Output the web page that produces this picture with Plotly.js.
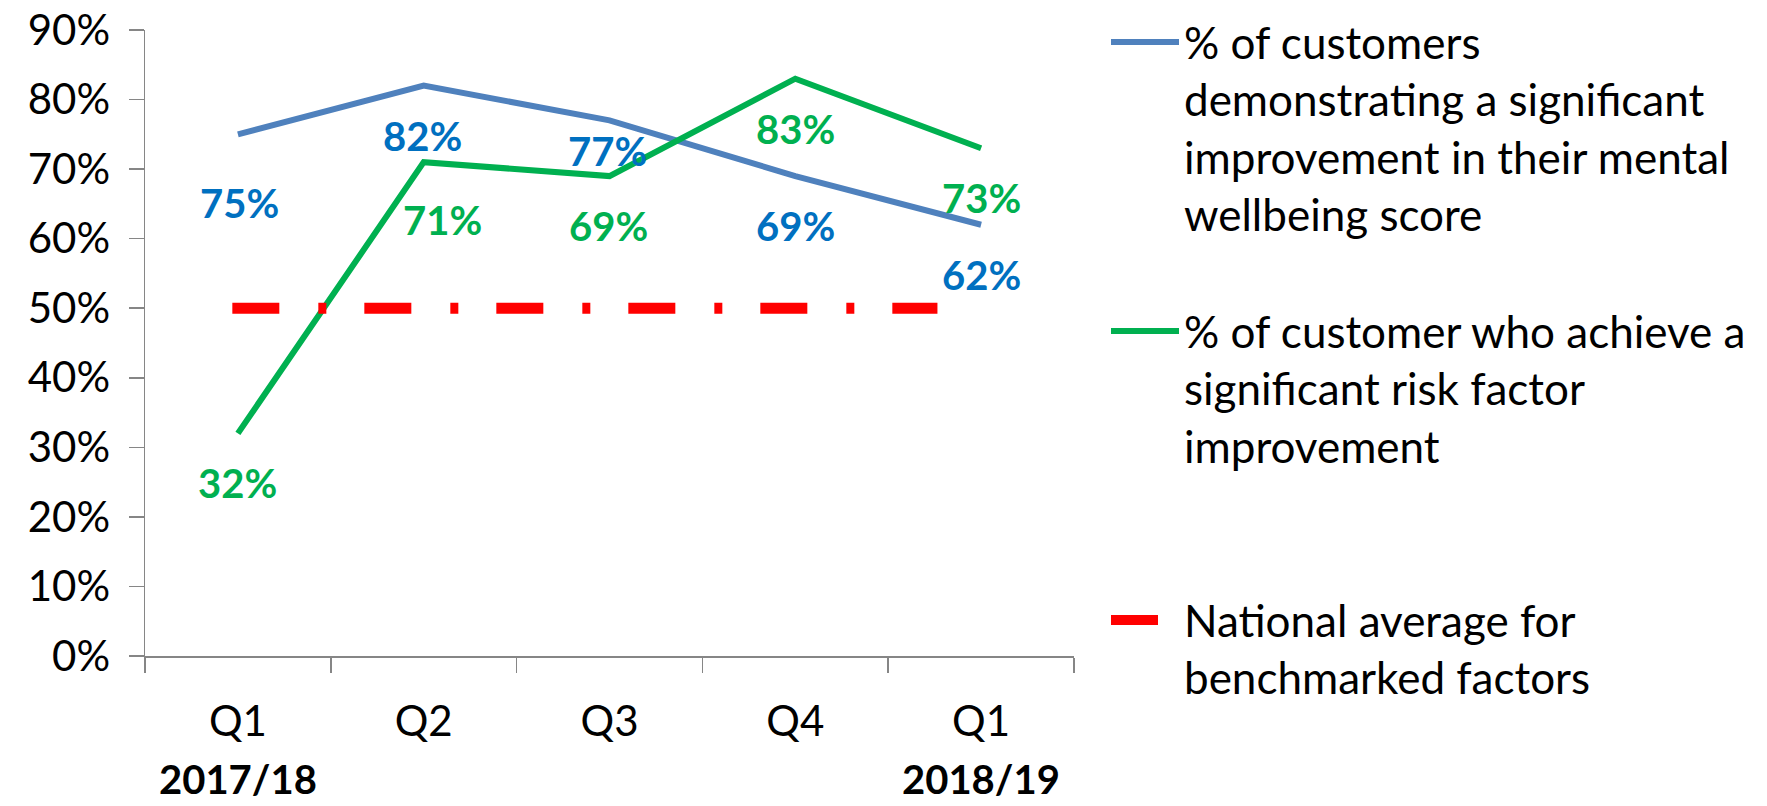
<!DOCTYPE html>
<html>
<head>
<meta charset="utf-8">
<script src="https://cdn.plot.ly/plotly-3.0.1.min.js"></script>
<style>
  html, body { margin: 0; padding: 0; background: #ffffff; }
  #chart { width: 1767px; height: 806px; }
</style>
</head>
<body>
<div id="chart"></div>
<script>
// ---- data ----
const quarters = ['Q1', 'Q2', 'Q3', 'Q4', 'Q1'];
const yearLabels = ['2017/18', '', '', '', '2018/19'];
const wellbeing = [75, 82, 77, 69, 62];
const riskFactor = [32, 71, 69, 83, 73];
const nationalAvg = [50, 50];
const nationalSpan = [-0.03, 3.765];   // category positions where the benchmark line starts / ends
const yTicks = [0, 10, 20, 30, 40, 50, 60, 70, 80, 90];
const yTickLabels = yTicks.map(v => v + '%');

const seriesNames = [
  '% of customers<br>demonstrating a significant<br>improvement in their mental<br>wellbeing score<br>\u00a0',
  '% of customer who achieve a<br>significant risk factor<br>improvement<br>\u00a0<br>\u00a0',
  'National average for<br>benchmarked factors'
];

// ---- styling (kept apart from the data) ----
const FONT = 'Lato, "Open Sans", sans-serif';
const AXIS = '#868686';
const BLUE_LINE = '#4F81BD', BLUE_TXT = '#0070C0';
const GREEN = '#00B050', RED = '#FF0000';
const blueLabelShift = { dy: [69, 50, 31, 50, 50], dx: [2, -1, -2, 0, 0] };
const greenLabelShift = { dy: [50, 58, 50, 50, 50], dx: [0, 19, -1, 0, 0] };

const xIdx = quarters.map((_, i) => i);

const traces = [
  {
    x: xIdx, y: wellbeing, type: 'scatter', mode: 'lines',
    name: seriesNames[0],
    line: { color: BLUE_LINE, width: 6 },
    hoverinfo: 'skip'
  },
  {
    x: xIdx, y: riskFactor, type: 'scatter', mode: 'lines',
    name: seriesNames[1],
    line: { color: GREEN, width: 6 },
    hoverinfo: 'skip'
  },
  {
    x: nationalSpan, y: nationalAvg, type: 'scatter', mode: 'lines',
    name: seriesNames[2],
    line: { color: RED, width: 11, dash: '47px,39px,8px,38px' },
    hoverinfo: 'skip'
  }
];

const annotations = [];
wellbeing.forEach((v, i) => annotations.push({
  x: i, y: v, xref: 'x', yref: 'y', text: '<b>' + v + '%</b>', showarrow: false,
  xanchor: 'center', yanchor: 'middle',
  xshift: blueLabelShift.dx[i], yshift: -blueLabelShift.dy[i],
  font: { family: FONT, size: 40, color: BLUE_TXT }
}));
riskFactor.forEach((v, i) => annotations.push({
  x: i, y: v, xref: 'x', yref: 'y', text: '<b>' + v + '%</b>', showarrow: false,
  xanchor: 'center', yanchor: 'middle',
  xshift: greenLabelShift.dx[i], yshift: -greenLabelShift.dy[i],
  font: { family: FONT, size: 40, color: GREEN }
}));
yearLabels.forEach((t, i) => {
  if (!t) return;
  annotations.push({
    x: i, y: -0.1965, xref: 'x', yref: 'paper', text: '<b>' + t + '</b>', showarrow: false,
    xanchor: 'center', yanchor: 'middle',
    font: { family: FONT, size: 40, color: '#000000' }
  });
});

const layout = {
  width: 1767, height: 806,
  margin: { l: 145, r: 693, t: 30, b: 150, pad: 0 },
  paper_bgcolor: '#ffffff', plot_bgcolor: '#ffffff',
  font: { family: FONT, size: 42, color: '#000000' },
  showlegend: true,
  legend: {
    xref: 'container', yref: 'container',
    x: 1106 / 1767, y: 1 - 7 / 806, xanchor: 'left', yanchor: 'top',
    valign: 'top', tracegroupgap: 0, itemwidth: 68, maxheight: 1,
    font: { family: FONT, size: 44, color: '#000000' },
    bgcolor: 'rgba(0,0,0,0)', borderwidth: 0
  },
  xaxis: {
    range: [-0.5, 4.5], tickmode: 'array', tickvals: xIdx, ticktext: quarters,
    ticks: '', showgrid: false, zeroline: false,
    showline: true, linecolor: AXIS, linewidth: 1.5,
    tickfont: { family: FONT, size: 42, color: '#000000' },
    ticklabelstandoff: 28,
    minor: { tick0: -0.5, dtick: 1, ticks: 'outside', ticklen: 15, tickwidth: 1.5, tickcolor: AXIS, showgrid: false }
  },
  yaxis: {
    range: [0, 90], tickmode: 'array', tickvals: yTicks, ticktext: yTickLabels,
    ticks: 'outside', ticklen: 15, tickwidth: 1.5, tickcolor: AXIS,
    showgrid: false, zeroline: false,
    showline: true, linecolor: AXIS, linewidth: 1.5,
    tickfont: { family: FONT, size: 42, color: '#000000' },
    ticklabelstandoff: 10
  },
  annotations: annotations
};

Plotly.newPlot('chart', traces, layout, { displayModeBar: false, staticPlot: true });
</script>
</body>
</html>
